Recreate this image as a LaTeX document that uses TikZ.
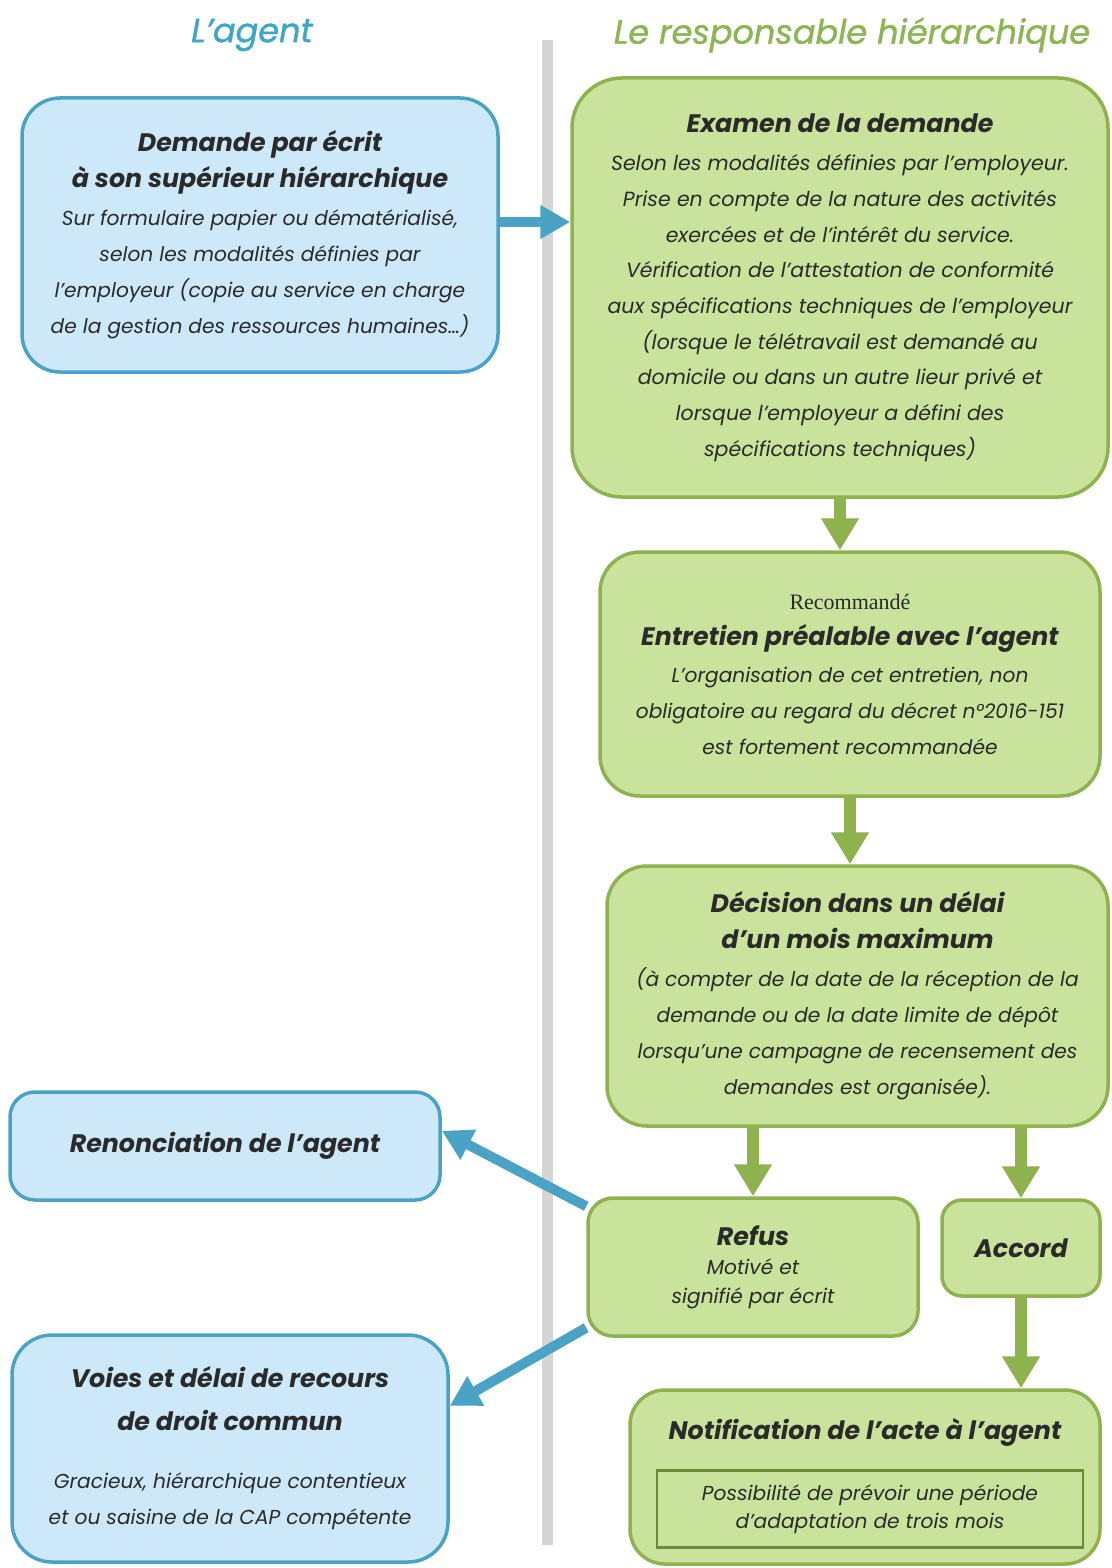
\documentclass[tikz,border=0pt]{standalone}
\usepackage{fontspec}
\setmainfont{Poppins}
\newfontfamily\serifrec{Liberation Serif}
\newfontfamily\titlefont[FakeBold=1.2]{Poppins}
\usetikzlibrary{arrows.meta,calc}
\definecolor{bluefill}{HTML}{CDE9F9}
\definecolor{blueline}{HTML}{4AA3C4}
\definecolor{greenfill}{HTML}{C9E39D}
\definecolor{greenline}{HTML}{8DB24E}
\definecolor{titleblue}{HTML}{3FA6C8}
\definecolor{titlegreen}{HTML}{8DB553}
\definecolor{txt}{HTML}{2A2A2A}
\definecolor{sepgray}{HTML}{D5D5D5}
\definecolor{darkgreen}{HTML}{6B8C37}
\newcommand{\hd}[1]{{\fontsize{25.3}{36}\selectfont\bfseries #1}}
\begin{document}
\begin{tikzpicture}[x=1pt,y=-1pt,
  boxbase/.style={line width=3.5pt, align=center, text=txt, inner sep=0pt,
    font={\fontsize{20.2}{36}\selectfont\itshape}},
  bbox/.style={boxbase, draw=blueline, fill=bluefill},
  gbox/.style={boxbase, draw=greenline, fill=greenfill},
  barrow/.style={draw=blueline, line width=10pt, -{Triangle[length=30pt,width=32pt]}},
  garrow/.style={draw=greenline, line width=12pt, -{Triangle[length=32pt,width=36pt]}},
  title/.style={font={\titlefont\fontsize{33.5}{40}\selectfont\itshape}, inner sep=0pt}]
\useasboundingbox (0,0) rectangle (1111,1568);
\fill[white] (0,0) rectangle (1111,1568);
% titles
\node[title, text=titleblue] (t1) at (252,35) {L’agent};
\node[title, text=titlegreen] (t2) at (852,35) {Le responsable hiérarchique};
% separator
\draw[sepgray, line width=11pt] (547,40) -- (547,1545);
% boxes
\node[bbox, minimum width=476pt, minimum height=274pt, rounded corners=38pt] (A) at (260,235)
 {\hd{Demande par écrit}\\ \hd{à son supérieur hiérarchique}\\[2pt]
  Sur formulaire papier ou dématérialisé,\\ selon les modalités définies par\\
  l’employeur (copie au service en charge\\ de la gestion des ressources humaines…)};
\node[gbox, minimum width=536pt, minimum height=419pt, rounded corners=50pt,
  font={\fontsize{20.5}{35.7}\selectfont\itshape}] (B) at (840,287.5)
 {\hd{Examen de la demande}\\[3pt]
  Selon les modalités définies par l’employeur.\\
  Prise en compte de la nature des activités\\
  exercées et de l’intérêt du service.\\
  Vérification de l’attestation de conformité\\
  aux spécifications techniques de l’employeur\\
  (lorsque le télétravail est demandé au\\
  domicile ou dans un autre lieur privé et\\
  lorsque l’employeur a défini des\\
  spécifications techniques)};
\node[gbox, minimum width=500pt, minimum height=244pt, rounded corners=40pt] (C) at (850,674)
 {{\upshape\serifrec\fontsize{22}{36}\selectfont Recommandé}\\
  \hd{Entretien préalable avec l’agent}\\[1pt]
  L’organisation de cet entretien, non\\
  obligatoire au regard du décret n°2016-151\\
  est fortement recommandée};
\node[gbox, minimum width=501pt, minimum height=260pt, rounded corners=40pt] (D) at (857.5,996)
 {\hd{Décision dans un délai}\\ \hd{d’un mois maximum}\\[2pt]
  (à compter de la date de la réception de la\\
  demande ou de la date limite de dépôt\\
  lorsqu’une campagne de recensement des\\
  demandes est organisée).};
\node[gbox, minimum width=330pt, minimum height=138pt, rounded corners=25pt,
  font={\fontsize{20.2}{29}\selectfont\itshape}] (refus) at (753,1267)
 {\hd{Refus}\\ Motivé et\\ signifié par écrit};
\node[gbox, minimum width=158pt, minimum height=96pt, rounded corners=20pt] (accord) at (1021,1248)
 {\hd{Accord}};
\node[gbox, minimum width=470pt, minimum height=174pt, rounded corners=35pt] (notif) at (865,1477) {};
\node[font={\fontsize{25.3}{36}\selectfont\bfseries\itshape}, text=txt, inner sep=0pt] (notifh) at (865,1432)
 {Notification de l’acte à l’agent};
\node[draw=darkgreen, line width=2.5pt, minimum width=426pt, minimum height=77pt, inner sep=0pt,
  align=center, text=txt, font={\fontsize{20.2}{28}\selectfont\itshape}] (notifi) at (870,1509)
 {Possibilité de prévoir une période\\ d’adaptation de trois mois};
\node[bbox, minimum width=430pt, minimum height=108pt, rounded corners=25pt] (renon) at (225,1146)
 {\hd{Renonciation de l’agent}};
\node[bbox, minimum width=436pt, minimum height=227pt, rounded corners=40pt] (voies) at (230,1448.5)
 {\hd{Voies et délai de recours}\\[7pt] \hd{de droit commun}\\[22pt]
  Gracieux, hiérarchique contentieux\\ et ou saisine de la CAP compétente};
% arrows
\draw[barrow] ([yshift=13pt]A.east) -- ([yshift=13pt]A.east -| B.west);
\draw[garrow] (B.south) -- (B.south |- C.north);
\draw[garrow] (C.south) -- (C.south |- D.north);
\draw[garrow] (D.south -| refus.north) -- (refus.north);
\draw[garrow] (D.south -| accord.north) -- (accord.north);
\draw[garrow] (accord.south) -- (accord.south |- notif.north);
\draw[barrow] (refus.160) -- (renon.4);
\draw[barrow] (refus.200) -- (voies.11);
\end{tikzpicture}
\end{document}
